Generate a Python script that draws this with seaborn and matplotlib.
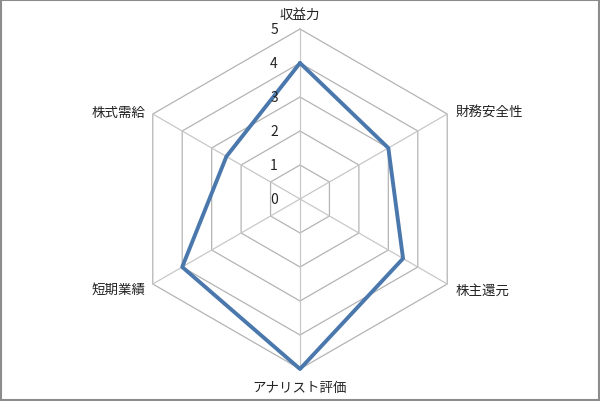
import numpy as np
import pandas as pd
import matplotlib
matplotlib.use("Agg")
import matplotlib.pyplot as plt
import seaborn as sns

# データ
categories = ["収益力", "財務安全性", "株主還元", "アナリスト評価", "短期業績", "株式需給"]
scores = [4, 3, 3.5, 5, 4, 2.5]
ring_levels = [0, 1, 2, 3, 4, 5]

sns.set_style("white")
plt.rcParams["font.family"] = ["Noto Sans CJK JP", "DejaVu Sans"]

n = len(categories)
# 上から時計回り
angles = np.pi / 2 - np.arange(n) * 2 * np.pi / n

def to_xy(vals):
    vals = np.asarray(vals, dtype=float)
    return vals * np.cos(angles), vals * np.sin(angles)

fig = plt.figure(figsize=(6, 4.02), dpi=100)
ax = fig.add_axes([0, 0, 1, 1])
unit = 34.0  # 1目盛りのピクセル数
ax.set_xlim(-300 / unit, 300 / unit)
ax.set_ylim(-202 / unit, 200 / unit)
ax.axis("off")

# 六角形のグリッド
grid_col = "#b4b4b4"
for lv in ring_levels[1:]:
    gx, gy = to_xy([lv] * n)
    ax.plot(np.append(gx, gx[0]), np.append(gy, gy[0]), color=grid_col, lw=0.9, zorder=1)
ox, oy = to_xy([ring_levels[-1]] * n)
for i in range(n):
    ax.plot([0, ox[i]], [0, oy[i]], color="#c8c8c8", lw=0.9, zorder=1)

# データ線（閉じる）
dx, dy = to_xy(scores)
df = pd.DataFrame({"x": np.append(dx, dx[0]), "y": np.append(dy, dy[0])})
sns.lineplot(data=df, x="x", y="y", sort=False, estimator=None, ax=ax,
             color="#4a78ad", lw=2.8, zorder=3)

# 目盛りラベル
for lv in ring_levels:
    ax.text(-26 / unit, lv, str(lv), ha="center", va="center", fontsize=10, color="#222222")

# 項目ラベル
fs = 9.7
lab = ring_levels[-1]
ax.text(0, lab + 15 / unit, categories[0], ha="center", va="center", fontsize=fs, color="#222222")
ax.text(ox[1] + 8 / unit, oy[1] + 3 / unit, categories[1], ha="left", va="center", fontsize=fs, color="#222222")
ax.text(ox[2] + 8 / unit, oy[2] - 6 / unit, categories[2], ha="left", va="center", fontsize=fs, color="#222222")
ax.text(0, -lab - 18 / unit, categories[3], ha="center", va="center", fontsize=fs, color="#222222")
ax.text(ox[4] - 7 / unit, oy[4] - 5 / unit, categories[4], ha="right", va="center", fontsize=fs, color="#222222")
ax.text(ox[5] - 7 / unit, oy[5] + 2 / unit, categories[5], ha="right", va="center", fontsize=fs, color="#222222")

# 外枠
fig.patches.append(plt.Rectangle((0.001, 0.002), 0.997, 0.996, transform=fig.transFigure,
                                 fill=False, edgecolor="#8c8c8c", lw=1.5))

fig.savefig("out.png", dpi=100)
